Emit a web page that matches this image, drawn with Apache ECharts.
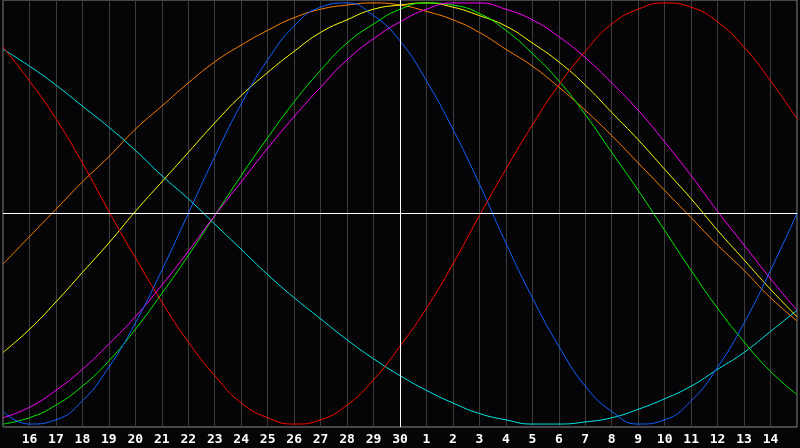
<!DOCTYPE html>
<html>
<head>
<meta charset="utf-8">
<script src="https://cdn.jsdelivr.net/npm/echarts@6/dist/echarts.min.js"></script>
<style>
html,body{margin:0;padding:0;background:#050508;}
#chart{width:800px;height:448px;}
</style>
</head>
<body>
<div id="chart"></div>
<script>
var dayLabels = ['15','16','17','18','19','20','21','22','23','24','25','26','27','28','29','30','1','2','3','4','5','6','7','8','9','10','11','12','13','14','15'];

var redValues = [0.79,0.63,0.45,0.24,0.01,-0.21,-0.42,-0.61,-0.77,-0.90,-0.97,-1.00,-0.98,-0.91,-0.79,-0.63,-0.45,-0.24,-0.01,0.21,0.42,0.61,0.77,0.90,0.97,1.00,0.98,0.91,0.79,0.63,0.45];
var blueValues = [-0.94,-1.00,-0.98,-0.89,-0.73,-0.52,-0.27,0.00,0.27,0.52,0.73,0.89,0.98,1.00,0.94,0.82,0.63,0.40,0.14,-0.14,-0.40,-0.63,-0.82,-0.94,-1.00,-0.98,-0.89,-0.73,-0.52,-0.27,0.00];
var cyanValues = [0.78,0.70,0.61,0.51,0.41,0.30,0.18,0.07,-0.05,-0.17,-0.29,-0.40,-0.50,-0.60,-0.69,-0.77,-0.84,-0.90,-0.95,-0.98,-1.00,-1.00,-0.99,-0.97,-0.93,-0.88,-0.82,-0.74,-0.66,-0.56,-0.46];
var orangeValues = [-0.24,-0.11,0.02,0.15,0.27,0.40,0.51,0.62,0.72,0.80,0.87,0.93,0.97,0.99,1.00,0.99,0.96,0.92,0.86,0.78,0.70,0.60,0.49,0.37,0.24,0.11,-0.02,-0.15,-0.27,-0.40,-0.51];
var yellowValues = [-0.66,-0.55,-0.42,-0.28,-0.14,0.01,0.15,0.29,0.43,0.56,0.67,0.77,0.86,0.92,0.97,0.99,1.00,0.98,0.94,0.89,0.81,0.72,0.61,0.48,0.35,0.21,0.07,-0.08,-0.22,-0.36,-0.49];
var greenValues = [-1.00,-0.97,-0.91,-0.82,-0.70,-0.55,-0.38,-0.20,-0.01,0.18,0.36,0.53,0.68,0.81,0.90,0.97,1.00,0.99,0.95,0.87,0.76,0.63,0.47,0.29,0.11,-0.08,-0.27,-0.45,-0.61,-0.75,-0.86];
var magentaValues = [-0.97,-0.92,-0.84,-0.74,-0.62,-0.49,-0.34,-0.18,-0.01,0.15,0.31,0.46,0.60,0.73,0.83,0.91,0.97,1.00,1.00,0.97,0.92,0.84,0.74,0.62,0.49,0.34,0.18,0.01,-0.15,-0.31,-0.46];

var seriesDefs = [
  {name:'orange', color:'#ff8000', data:orangeValues},
  {name:'cyan', color:'#00e8e8', data:cyanValues},
  {name:'yellow', color:'#ffff00', data:yellowValues},
  {name:'green', color:'#00ee00', data:greenValues},
  {name:'magenta', color:'#ff00ff', data:magentaValues},
  {name:'blue', color:'#1060ff', data:blueValues},
  {name:'red', color:'#ff0000', data:redValues}
];

var chart = echarts.init(document.getElementById('chart'), null, {renderer:'canvas'});

var series = seriesDefs.map(function(d){
  return {
    name:d.name, type:'line', data:d.data, smooth:true, symbol:'none',
    lineStyle:{color:d.color, width:1}, z:3
  };
});
series.push({
  type:'line', data:[], silent:true, z:2,
  markLine:{
    silent:true, symbol:['none','none'], animation:false,
    label:{show:false},
    lineStyle:{color:'#ffffff', width:1, type:'solid'},
    data:[{xAxis:15},{yAxis:0}]
  }
});

chart.setOption({
  backgroundColor:'#050508',
  animation:false,
  grid:{left:0, right:1, top:0, bottom:21, show:true, borderColor:'#8a8a8a', borderWidth:1, backgroundColor:'transparent'},
  xAxis:{
    type:'category', data:dayLabels, boundaryGap:false,
    axisLine:{show:true, lineStyle:{color:'#8a8a8a'}},
    axisTick:{show:false},
    splitLine:{show:true, interval:0, lineStyle:{color:'#3c3c3c', width:1}},
    axisLabel:{
      interval:0, color:'#ffffff', fontFamily:'DejaVu Sans Mono', fontWeight:'bold', fontSize:13, margin:6,
      formatter:function(v, i){ return (i===0 || i===dayLabels.length-1) ? '' : v; }
    }
  },
  yAxis:{
    type:'value', min:-1.014, max:1.014,
    axisLine:{show:false}, axisTick:{show:false}, axisLabel:{show:false}, splitLine:{show:false}
  },
  series:series
});
</script>
</body>
</html>
